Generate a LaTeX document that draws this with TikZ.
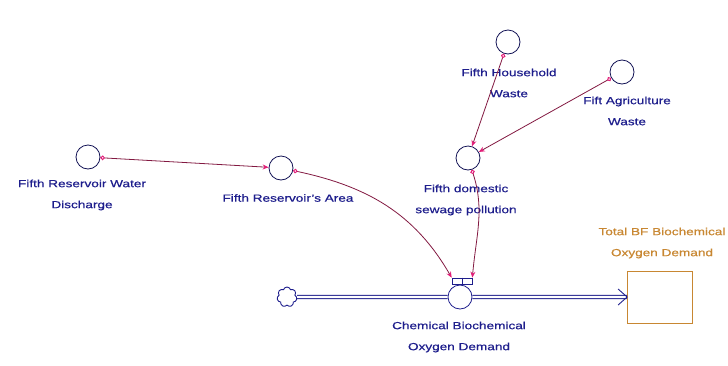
\documentclass[tikz,border=0pt]{standalone}
\usepackage{fontspec}
\setmainfont{Liberation Sans}[FakeStretch=1.32,FakeBold=0.6]
\usetikzlibrary{shapes.symbols,arrows.meta,positioning}

\definecolor{varblue}{RGB}{30,30,140}
\definecolor{linkred}{RGB}{130,25,65}
\definecolor{tippink}{RGB}{225,30,120}
\definecolor{stockorange}{RGB}{200,135,50}

\begin{document}
\begin{tikzpicture}[x=1pt,y=-1pt]
	\tikzset{aux/.style={draw=varblue!60!black,circle,minimum size=24pt,inner sep=0pt,line width=0.8pt},
		lbl/.style={text=varblue,align=center,font=\fontsize{10.3}{21}\selectfont,inner sep=0pt},
		link/.style={draw=linkred,line width=0.8pt,{Circle[open,tippink,length=4.5pt,width=4.5pt,line width=1pt]}-{Stealth[tippink,length=6pt,width=5pt]}},
		pipe/.style={draw=varblue,double=white,double distance=2.4pt,line width=0.9pt}}
	\useasboundingbox (0,0) rectangle (728,365);
	% auxiliaries
	\node [aux] (disch) at (88,157) {};
	\node [lbl] (dischL) at (82,195) {Fifth Reservoir Water\\Discharge};
	\node [aux] (area) at (281,168) {};
	\node [lbl] (areaL) at (288,198) {Fifth Reservoir's Area};
	\node [aux] (house) at (508,42) {};
	\node [lbl] (houseL) at (509,83) {Fifth Household\\Waste};
	\node [aux] (agri) at (622,72) {};
	\node [lbl] (agriL) at (627,111) {Fift Agriculture\\Waste};
	\node [aux] (dom) at (468,158) {};
	\node [lbl] (domL) at (466,200) {Fifth domestic\\sewage pollution};
	% flow with its valve
	\node [aux,draw=varblue] (rate) at (460,297) {};
	\node [draw=varblue,line width=0.7pt,minimum width=20pt,minimum height=6pt,inner sep=0pt] (valve) at (462,281) {};
	\draw [varblue,line width=0.7pt] (valve.north) -- (valve.south);
	\node [lbl] (rateL) at (459,337) {Chemical Biochemical\\Oxygen Demand};
	\node [draw=varblue,cloud,cloud puffs=7,minimum size=20pt,inner sep=0pt,line width=0.9pt] (src) at (287,297) {};
	% stock
	\node [draw=stockorange,line width=0.8pt,minimum width=65pt,minimum height=52pt,inner sep=0pt] (bod) at (660,297) {};
	\node [lbl,text=stockorange] (bodL) at (662,243) {Total BF Biochemical\\Oxygen Demand};
	\draw [pipe] (src) -- (rate) -- (bod.west);
	\draw [varblue,line width=0.9pt] ([xshift=-9pt,yshift=-8pt]bod.west) -- (bod.west) -- ([xshift=-9pt,yshift=8pt]bod.west);
	% links
	\draw [link] (disch) -- (area);
	\draw [link] (area) to[out=-12,in=120] (valve.north west);
	\draw [link] (house) -- (dom);
	\draw [link] (agri) -- (dom);
	\draw [link] (dom) to[out=-72,in=85] (valve.north east);
\end{tikzpicture}
\end{document}
